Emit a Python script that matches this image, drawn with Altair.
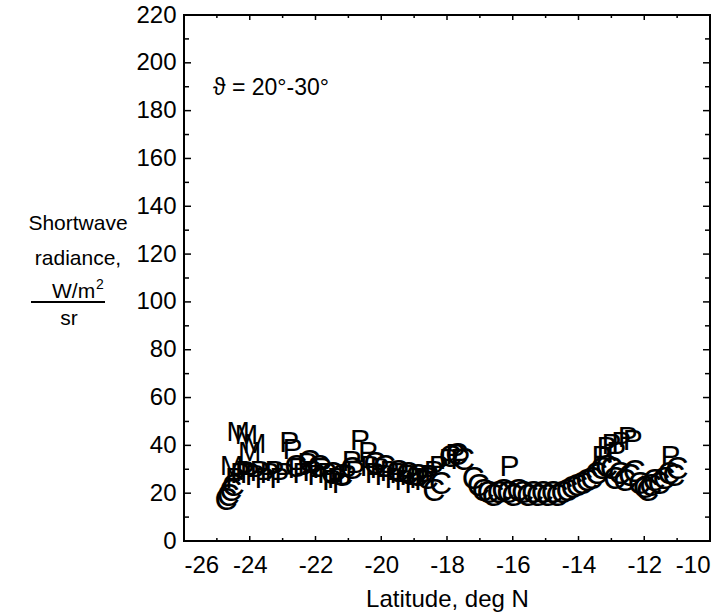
import altair as alt
import pandas as pd

FONT = "Liberation Sans"

# Plot symbols: C, P and M glyphs at (latitude, radiance)
c_lat = [-24.72, -24.65, -24.58, -24.5,
         -22.6, -22.2, -21.9, -21.5, -21.2, -20.9, -20.2, -19.9, -19.5, -19.2,
         -18.9, -18.6, -18.4, -18.2, -17.9, -17.7, -17.5,
         -17.2, -17.05, -16.9, -16.75, -16.6, -16.45, -16.3, -16.15, -16.0,
         -15.85, -15.7, -15.55, -15.4, -15.25, -15.1, -14.95, -14.8, -14.65,
         -14.5, -14.35, -14.2, -14.05, -13.9, -13.75, -13.6, -13.45, -13.3,
         -13.15, -13.0, -12.9, -12.75, -12.6, -12.45, -12.3, -12.15, -12.0,
         -11.9, -11.8, -11.7, -11.55, -11.4, -11.25, -11.1, -11.0]
c_val = [17, 19, 21, 23,
         31, 33, 31, 28, 27, 30, 32, 31, 29, 28,
         27, 26, 21, 24, 35, 36, 34,
         26, 23, 21, 20, 19, 20, 21, 20, 19,
         21, 20, 19, 20, 19, 20, 19, 20, 19,
         20, 21, 22, 23, 24, 25, 26, 28, 30,
         31, 30, 26, 28, 25, 27, 29, 24, 22,
         21, 23, 25, 24, 26, 28, 27, 30]

p_lat = [-24.45, -24.3, -24.15, -24.0, -23.85, -23.7, -23.55, -23.4, -23.25,
         -23.1, -22.95, -22.8, -22.7, -22.55, -22.4, -22.25, -22.1, -21.95,
         -21.8, -21.65, -21.5, -21.35, -21.2, -21.05, -20.9, -20.8, -20.65,
         -20.4, -20.35, -20.2, -20.05, -19.9, -19.75, -19.6, -19.45, -19.3,
         -19.15, -19.0, -18.85, -18.7, -18.55, -18.4, -18.25, -17.95, -17.75,
         -17.6, -16.1, -13.3, -13.15, -13.0, -12.85, -12.7, -12.5, -12.35,
         -11.2]
p_val = [26, 28, 29, 28, 27, 29, 26, 28, 29,
         26, 28, 41, 38, 30, 28, 32, 29, 27,
         30, 28, 25, 26, 24, 27, 33, 29, 42,
         37, 31, 28, 30, 27, 29, 26, 28, 25,
         27, 24, 26, 25, 27, 29, 31, 34, 36,
         34, 31, 35, 39, 40, 37, 41, 43, 42,
         35]

m_lat = [-24.55, -24.35, -24.1, -24.0, -23.85]
m_val = [31, 45, 44, 37, 40]

# Axis tick positions
x_major = [-26, -24, -22, -20, -18, -16, -14, -12, -10]
x_minor = [-25, -23, -21, -19, -17, -15, -13, -11]
y_major = [0, 20, 40, 60, 80, 100, 120, 140, 160, 180, 200, 220]
y_minor = [10, 30, 50, 70, 90, 110, 130, 150, 170, 190, 210]

W, H = 526, 526

xs = alt.Scale(domain=[-26, -10], nice=False, zero=False)
ys = alt.Scale(domain=[0, 220], nice=False, zero=False)
x_axis = alt.Axis(values=x_major, ticks=False, domain=False, grid=False,
                  labelPadding=12, labelExpr="toString(datum.value)",
                  title="Latitude, deg N", titlePadding=10)
y_axis = alt.Axis(values=y_major, ticks=False, domain=False, grid=False,
                  labelPadding=8, labelExpr="toString(datum.value)", title=None)

def X(field):
    return alt.X(f"{field}:Q", scale=xs, axis=x_axis, title="Latitude, deg N")

def Y(field):
    return alt.Y(f"{field}:Q", scale=ys, axis=y_axis, title=None)

def glyphs(lats, vals, sym, size):
    d = pd.DataFrame({"lat": lats, "val": vals})
    return alt.Chart(d).mark_text(
        text=sym, font=FONT, fontSize=size, color="black",
        baseline="middle", align="center"
    ).encode(x=X("lat"), y=Y("val"))

def xticks(vals, length):
    d = pd.DataFrame({"lat": vals})
    bottom = alt.Chart(d).mark_rule(color="black", strokeWidth=1.5).encode(
        x=X("lat"), y=alt.value(H), y2=alt.value(H - length))
    top = alt.Chart(d).mark_rule(color="black", strokeWidth=1.5).encode(
        x=X("lat"), y=alt.value(0), y2=alt.value(length))
    return [bottom, top]

def yticks(vals, length):
    d = pd.DataFrame({"val": vals})
    left = alt.Chart(d).mark_rule(color="black", strokeWidth=1.5).encode(
        y=Y("val"), x=alt.value(0), x2=alt.value(length))
    right = alt.Chart(d).mark_rule(color="black", strokeWidth=1.5).encode(
        y=Y("val"), x=alt.value(W), x2=alt.value(W - length))
    return [left, right]

one = pd.DataFrame({"k": [0]})

def label(text, x, y, size=21, align="center"):
    return alt.Chart(one).mark_text(
        text=text, font=FONT, fontSize=size, color="black",
        align=align, baseline="alphabetic"
    ).encode(x=alt.value(x), y=alt.value(y))

ytitle = [
    label("Shortwave", -106, 215),
    label("radiance,", -106, 250),
    label("W/m", -132, 283, align="left"),
    label("2", -88, 274, size=14, align="left"),
    label("sr", -115, 310),
    alt.Chart(one).mark_rule(color="black", strokeWidth=2).encode(
        x=alt.value(-153), x2=alt.value(-79), y=alt.value(287)),
]

angle_note = label("\u03d1 = 20\u00b0-30\u00b0", 29, 80, size=23, align="left")

layers = ([glyphs(p_lat, p_val, "P", 30),
           glyphs(c_lat, c_val, "C", 32),
           glyphs(m_lat, m_val, "M", 28)]
          + xticks(x_major, 5) + xticks(x_minor, 3)
          + yticks(y_major, 7) + yticks(y_minor, 5) + ytitle + [angle_note])

chart = alt.layer(*layers).properties(
    width=W, height=H,
    autosize=alt.AutoSizeParams(type="none"),
    padding={"left": 184, "top": 15, "right": 14, "bottom": 72},
    background="white",
).configure_view(
    stroke="black", strokeWidth=2
).configure_axis(
    labelFont=FONT, labelFontSize=24, labelColor="black",
    titleFont=FONT, titleFontSize=24, titleFontWeight="normal", titleColor="black",
)

chart.save("out.html", embed_options={"renderer": "svg", "actions": False})
